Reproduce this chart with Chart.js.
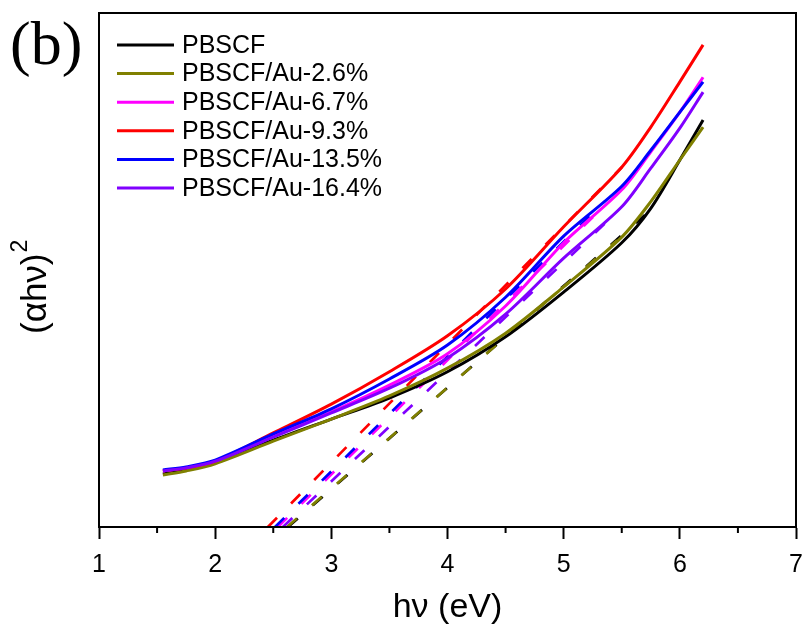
<!DOCTYPE html>
<html>
<head>
<meta charset="utf-8">
<script src="https://cdn.jsdelivr.net/npm/chart.js@4.4.1/dist/chart.umd.min.js"></script>
<style>
html,body{margin:0;padding:0;background:#fff;}
#wrap{width:804px;height:639px;}
</style>
</head>
<body>
<div id="wrap"><canvas id="c" width="804" height="639"></canvas></div>
<script>
// ---- data ----
const seriesNames = ["PBSCF","PBSCF/Au-2.6%","PBSCF/Au-6.7%","PBSCF/Au-9.3%","PBSCF/Au-13.5%","PBSCF/Au-16.4%"];
const seriesColors = ["#000000","#808000","#ff00ff","#ff0000","#0000ff","#8000ff"];
const photonEnergy = [1.55, 1.75, 2, 2.5, 3, 3.5, 4, 4.5, 5, 5.5, 5.75, 6, 6.2];
const pbscf = [10.3, 11.1, 12.5, 16.9, 21.0, 25.1, 30.2, 37.0, 45.7, 55.3, 62.0, 71.4, 79.2];
const au26  = [10.1, 10.9, 12.3, 16.7, 21.0, 25.5, 30.9, 37.7, 46.7, 56.4, 63.3, 71.4, 77.8];
const au67  = [10.9, 11.5, 12.8, 17.7, 22.4, 27.6, 33.7, 43.0, 55.3, 65.6, 73.0, 80.7, 87.5];
const au93  = [10.9, 11.5, 12.8, 18.3, 23.9, 30.2, 37.2, 46.3, 58.4, 70.0, 77.8, 86.6, 93.8];
const au135 = [11.1, 11.7, 13.0, 18.1, 23.0, 28.8, 35.4, 44.7, 56.6, 66.3, 73.3, 80.7, 86.6];
const au164 = [10.9, 11.5, 12.8, 17.5, 22.2, 27.0, 32.9, 41.4, 52.3, 62.3, 69.8, 77.6, 84.6];
const seriesValues = [pbscf, au26, au67, au93, au135, au164];
// linear (Tauc) extrapolation lines: x-intercept and upper end point
const fitStartX = [2.627, 2.618, 2.54, 2.454, 2.515, 2.583];
const fitEndX   = [5.70, 5.46, 5.35, 5.50, 5.35, 5.40];
const fitEndY   = [60.7, 55.8, 62.5, 70.0, 63.3, 60.0];
const xTicks = [1, 2, 3, 4, 5, 6, 7];
const xMinorTicks = [1.5, 2.5, 3.5, 4.5, 5.5, 6.5];
const yTitleMain = '(αhν)';
const yTitleSup = '2';

const FONT = "'Liberation Sans', Arial, sans-serif";

const datasets = [];
seriesNames.forEach((name, i) => {
  datasets.push({
    label: name,
    data: photonEnergy.map((x, k) => ({x: x, y: seriesValues[i][k]})),
    borderColor: seriesColors[i],
    backgroundColor: seriesColors[i],
    borderWidth: 3,
    pointRadius: 0,
    showLine: true,
    tension: 0.3,
    order: 20 - i
  });
});
seriesNames.forEach((name, i) => {
  datasets.push({
    label: name + " fit",
    data: [{x: fitStartX[i], y: 0}, {x: fitEndX[i], y: fitEndY[i]}],
    borderColor: seriesColors[i],
    backgroundColor: seriesColors[i],
    borderWidth: 2.7,
    borderDash: [13, 20],
    pointRadius: 0,
    showLine: true,
    tension: 0,
    order: 40 - i
  });
});

const decorations = {
  id: 'decorations',
  afterDraw(chart) {
    const ctx = chart.ctx;
    const a = chart.chartArea;
    const xs = chart.scales.x;
    ctx.save();
    ctx.strokeStyle = '#000';
    ctx.lineWidth = 2;
    ctx.strokeRect(a.left, a.top, a.right - a.left, a.bottom - a.top);
    xMinorTicks.forEach(v => {
      const px = xs.getPixelForValue(v);
      ctx.beginPath();
      ctx.moveTo(px, a.bottom);
      ctx.lineTo(px, a.bottom + 6);
      ctx.stroke();
    });
    // legend
    ctx.textBaseline = 'middle';
    ctx.textAlign = 'left';
    ctx.font = '25px ' + FONT;
    const rowY0 = 45, rowStep = 28.6;
    seriesNames.forEach((name, i) => {
      const y = rowY0 + i * rowStep;
      ctx.strokeStyle = seriesColors[i];
      ctx.lineWidth = 3;
      ctx.beginPath();
      ctx.moveTo(117, y);
      ctx.lineTo(174, y);
      ctx.stroke();
      ctx.fillStyle = '#000';
      ctx.fillText(name, 182, y + 1);
    });
    // y axis title with superscript
    ctx.save();
    ctx.translate(36, 334);
    ctx.rotate(-Math.PI / 2);
    ctx.font = '35px ' + FONT;
    ctx.textBaseline = 'middle';
    ctx.fillStyle = '#000';
    ctx.fillText(yTitleMain, 0, 0);
    const w = ctx.measureText(yTitleMain).width;
    ctx.font = '23px ' + FONT;
    ctx.fillText(yTitleSup, w + 1, -15);
    ctx.restore();
    // panel label
    ctx.font = '62px "Liberation Serif", "Times New Roman", serif';
    ctx.textBaseline = 'alphabetic';
    ctx.fillStyle = '#000';
    ctx.fillText('(b)', 10, 64);
    ctx.restore();
  }
};

new Chart(document.getElementById('c'), {
  type: 'scatter',
  data: {datasets: datasets},
  options: {
    responsive: false,
    animation: false,
    devicePixelRatio: 1,
    layout: {padding: {top: 13, right: 8, left: 0, bottom: 0}},
    plugins: {legend: {display: false}, tooltip: {enabled: false}},
    scales: {
      x: {
        type: 'linear',
        min: 1, max: 7,
        afterBuildTicks(scale) { scale.ticks = xTicks.map(v => ({value: v})); },
        afterFit(scale) { scale.height = 112; scale.paddingLeft = 0; scale.paddingRight = 0; },
        ticks: {font: {family: FONT, size: 25}, color: '#000', padding: 11},
        grid: {display: true, drawOnChartArea: false, drawTicks: true, tickLength: 12, tickWidth: 2, tickColor: '#000'},
        border: {display: true, color: '#000', width: 2},
        title: {display: true, text: 'hν (eV)', font: {family: FONT, size: 34}, color: '#000', padding: {top: 0, bottom: 11}}
      },
      y: {
        type: 'linear',
        min: 0, max: 100,
        afterFit(scale) { scale.width = 99; scale.paddingTop = 0; scale.paddingBottom = 0; },
        ticks: {display: false},
        grid: {display: false},
        border: {display: true, color: '#000', width: 2},
        title: {display: false}
      }
    }
  },
  plugins: [decorations]
});
</script>
</body>
</html>
